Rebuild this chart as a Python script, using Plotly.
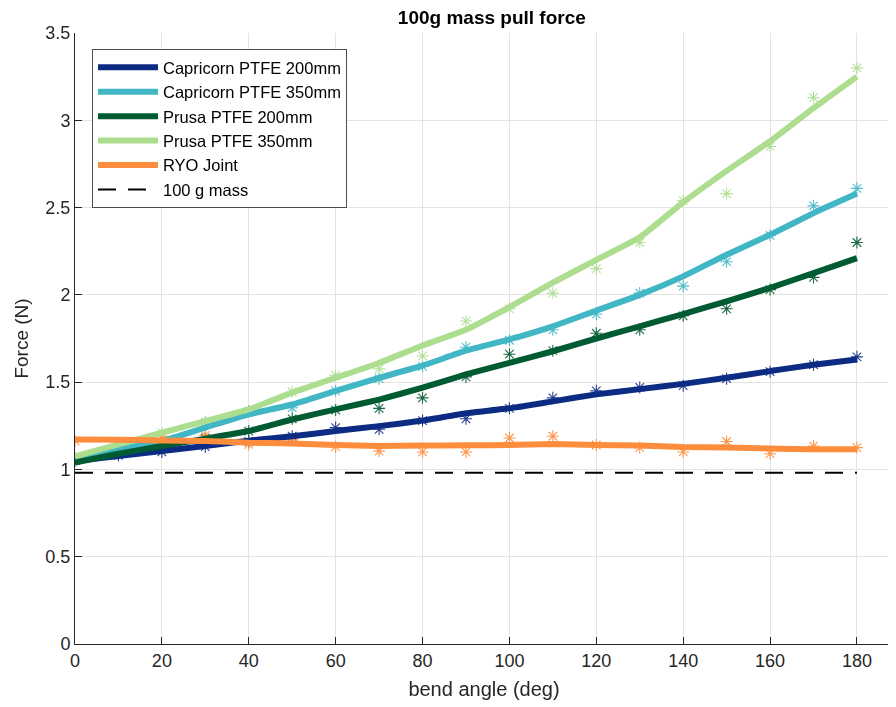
import plotly.graph_objects as go

angles = [0, 10, 20, 30, 40, 50, 60, 70, 80, 90, 100, 110, 120, 130, 140, 150, 160, 170, 180]

cap200_meas = [1.06, 1.08, 1.10, 1.13, 1.16, 1.19, 1.24, 1.23, 1.28, 1.29, 1.35, 1.41, 1.45, 1.47, 1.48, 1.52, 1.56, 1.60, 1.645]
cap200_fit = [1.048, 1.077, 1.105, 1.134, 1.165, 1.19, 1.22, 1.248, 1.28, 1.322, 1.35, 1.39, 1.43, 1.46, 1.49, 1.525, 1.563, 1.60, 1.63]

cap350_meas = [1.067, 1.115, 1.143, 1.27, 1.334, 1.353, 1.45, 1.52, 1.59, 1.70, 1.74, 1.80, 1.89, 2.01, 2.05, 2.19, 2.34, 2.51, 2.61]
cap350_fit = [1.067, 1.115, 1.163, 1.24, 1.315, 1.372, 1.45, 1.525, 1.595, 1.68, 1.745, 1.82, 1.91, 2.00, 2.106, 2.23, 2.344, 2.468, 2.58]

prusa200_meas = [1.05, 1.09, 1.12, 1.18, 1.22, 1.29, 1.34, 1.35, 1.41, 1.53, 1.66, 1.68, 1.78, 1.80, 1.88, 1.92, 2.03, 2.10, 2.30]
prusa200_fit = [1.039, 1.09, 1.134, 1.176, 1.22, 1.286, 1.344, 1.40, 1.468, 1.544, 1.61, 1.677, 1.75, 1.82, 1.89, 1.963, 2.04, 2.125, 2.21]

prusa350_meas = [1.06, 1.13, 1.21, 1.27, 1.33, 1.445, 1.54, 1.576, 1.65, 1.85, 1.92, 2.01, 2.15, 2.30, 2.54, 2.58, 2.85, 3.13, 3.30]
prusa350_fit = [1.075, 1.143, 1.21, 1.277, 1.344, 1.44, 1.525, 1.61, 1.71, 1.80, 1.93, 2.07, 2.20, 2.33, 2.53, 2.71, 2.88, 3.07, 3.25]

ryo_meas = [1.163, 1.143, 1.19, 1.195, 1.143, 1.17, 1.13, 1.105, 1.10, 1.10, 1.18, 1.19, 1.14, 1.125, 1.10, 1.16, 1.09, 1.134, 1.125]
ryo_fit = [1.172, 1.17, 1.166, 1.163, 1.153, 1.149, 1.14, 1.134, 1.137, 1.138, 1.14, 1.145, 1.14, 1.137, 1.128, 1.125, 1.12, 1.115, 1.115]

mass_x = [0, 180]
mass_force = [0.981, 0.981]

series = [
    ("Capricorn PTFE 200mm", "#0c2c84", cap200_meas, cap200_fit),
    ("Capricorn PTFE 350mm", "#41b6c4", cap350_meas, cap350_fit),
    ("Prusa PTFE 200mm", "#005a32", prusa200_meas, prusa200_fit),
    ("Prusa PTFE 350mm", "#addd8e", prusa350_meas, prusa350_fit),
    ("RYO Joint", "#fd8d3c", ryo_meas, ryo_fit),
]

FONT = "Liberation Sans, Arial, Helvetica, sans-serif"

fig = go.Figure()
for name, color, meas, fit in series:
    fig.add_trace(go.Scatter(
        x=angles, y=meas, mode="markers", showlegend=False,
        marker=dict(symbol="asterisk-open", size=10, color=color,
                    line=dict(color=color, width=1.1)),
        opacity=0.9, hoverinfo="skip",
    ))
for name, color, meas, fit in series:
    fig.add_trace(go.Scatter(
        x=angles, y=fit, mode="lines", name=name, legendgroup=name,
        line=dict(color=color, width=6, shape="spline", smoothing=0.4),
    ))
fig.add_trace(go.Scatter(
    x=mass_x, y=mass_force, mode="lines", name="100 g mass", legendgroup="mass",
    line=dict(color="black", width=2, dash="18px,12px"),
))

axis_common = dict(
    showgrid=True, gridcolor="#e3e3e3", gridwidth=1,
    ticks="inside", ticklen=7, tickcolor="#262626", tickwidth=1,
    showline=True, linecolor="#262626", linewidth=1,
    zeroline=False, mirror=False, automargin=False,
    tickfont=dict(family=FONT, size=18, color="#262626"),
)

# page body adds an 8px offset; margins compensate so the plot sits where the reference has it
fig.update_layout(
    width=896, height=707,
    margin=dict(l=67, r=11, t=25, b=71),
    paper_bgcolor="white", plot_bgcolor="white",
    title=dict(text="<b>100g mass pull force</b>", x=0.54, xanchor="center",
               y=1 - 9 / 707, yref="container", yanchor="middle",
               font=dict(family=FONT, size=19, color="black")),
    xaxis=dict(range=[0, 188.3], tickvals=list(range(0, 181, 20)),
               title=dict(text="bend angle (deg)", font=dict(family=FONT, size=20, color="#262626"), standoff=12),
               **axis_common),
    yaxis=dict(range=[0, 3.5], tickvals=[0, 0.5, 1, 1.5, 2, 2.5, 3, 3.5],
               ticktext=["0", "0.5", "1", "1.5", "2", "2.5", "3", "3.5"],
               title=dict(text="Force (N)", font=dict(family=FONT, size=19, color="#262626"), standoff=11),
               **axis_common),
    legend=dict(x=(92 - 75) / 818, y=1 - (49 - 33) / 611, xanchor="left", yanchor="top",
                bgcolor="white", bordercolor="#4d4d4d", borderwidth=1,
                font=dict(family=FONT, size=16.5, color="black"),
                traceorder="grouped", tracegroupgap=0, itemwidth=60),
    showlegend=True,
)

fig.write_html("out.html")
